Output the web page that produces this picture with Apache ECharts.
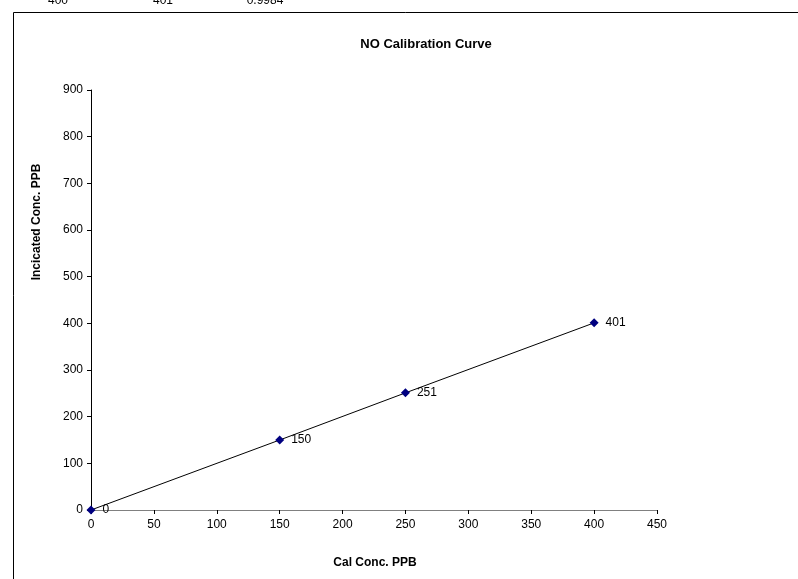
<!DOCTYPE html>
<html>
<head>
<meta charset="utf-8">
<script src="https://cdn.jsdelivr.net/npm/echarts@6/dist/echarts.min.js"></script>
<style>
html,body{margin:0;padding:0;background:#fff;}
#main{width:798px;height:579px;}
</style>
</head>
<body>
<div id="main"></div>
<script>
/* NO 校准曲线 */
var calConc = [0, 150, 250, 400];      // x: Cal Conc. PPB
var indicated = [0, 150, 251, 401];    // y: Indicated Conc. PPB
var xTicks = [0, 50, 100, 150, 200, 250, 300, 350, 400, 450];
var yTicks = [0, 100, 200, 300, 400, 500, 600, 700, 800, 900];
var topRow = ['400', '401', '0.9984'];  // row of the sheet above the chart

var font = 'Liberation Sans, Arial, sans-serif';

var points = [];
for (var i = 0; i < calConc.length; i++) {
    points.push([calConc[i], indicated[i]]);
}

var chart = echarts.init(document.getElementById('main'));
chart.setOption({
    animation: false,
    backgroundColor: '#fff',
    title: {
        text: 'NO Calibration Curve',
        left: 421,
        top: 33,
        textAlign: 'center',
        textStyle: {fontFamily: font, fontSize: 13, fontWeight: 'bold', color: '#000'}
    },
    grid: {left: 91, right: 141, top: 90, bottom: 69},
    xAxis: {
        type: 'value',
        min: xTicks[0],
        max: xTicks[xTicks.length - 1],
        interval: 50,
        splitLine: {show: false},
        axisLine: {lineStyle: {color: '#808080', width: 1}},
        axisTick: {show: true, length: 4, lineStyle: {color: '#000'}},
        axisLabel: {fontFamily: font, fontSize: 12, color: '#000', margin: 9}
    },
    yAxis: {
        type: 'value',
        min: yTicks[0],
        max: yTicks[yTicks.length - 1],
        interval: 100,
        splitLine: {show: false},
        axisLine: {show: true, lineStyle: {color: '#000', width: 1}},
        axisTick: {show: true, length: 4, lineStyle: {color: '#000'}},
        axisLabel: {fontFamily: font, fontSize: 12, color: '#000', margin: 8}
    },
    series: [{
        type: 'line',
        data: points,
        symbol: 'diamond',
        symbolSize: 9,
        itemStyle: {color: '#000080'},
        lineStyle: {color: '#000', width: 1},
        label: {
            show: true,
            position: 'right',
            distance: 7,
            fontFamily: font,
            fontSize: 12,
            color: '#000',
            formatter: function (p) { return p.value[1]; }
        }
    }],
    graphic: [
        {type: 'line', shape: {x1: 13.5, y1: 12.5, x2: 798, y2: 12.5}, style: {stroke: '#000', lineWidth: 1}},
        {type: 'line', shape: {x1: 13.5, y1: 12.5, x2: 13.5, y2: 579}, style: {stroke: '#000', lineWidth: 1}},
        {type: 'text', x: 58, y: -5, style: {text: topRow[0], font: '12px ' + font, fill: '#000', textAlign: 'center'}},
        {type: 'text', x: 163, y: -5, style: {text: topRow[1], font: '12px ' + font, fill: '#000', textAlign: 'center'}},
        {type: 'text', x: 265, y: -5, style: {text: topRow[2], font: '12px ' + font, fill: '#000', textAlign: 'center'}},
        {
            type: 'text', x: 37, y: 222, rotation: Math.PI / 2,
            style: {text: 'Incicated Conc. PPB', font: 'bold 12px ' + font, fill: '#000', textAlign: 'center', textVerticalAlign: 'middle'}
        },
        {
            type: 'text', x: 375, y: 563,
            style: {text: 'Cal Conc. PPB', font: 'bold 12px ' + font, fill: '#000', textAlign: 'center', textVerticalAlign: 'middle'}
        }
    ]
});
</script>
</body>
</html>
